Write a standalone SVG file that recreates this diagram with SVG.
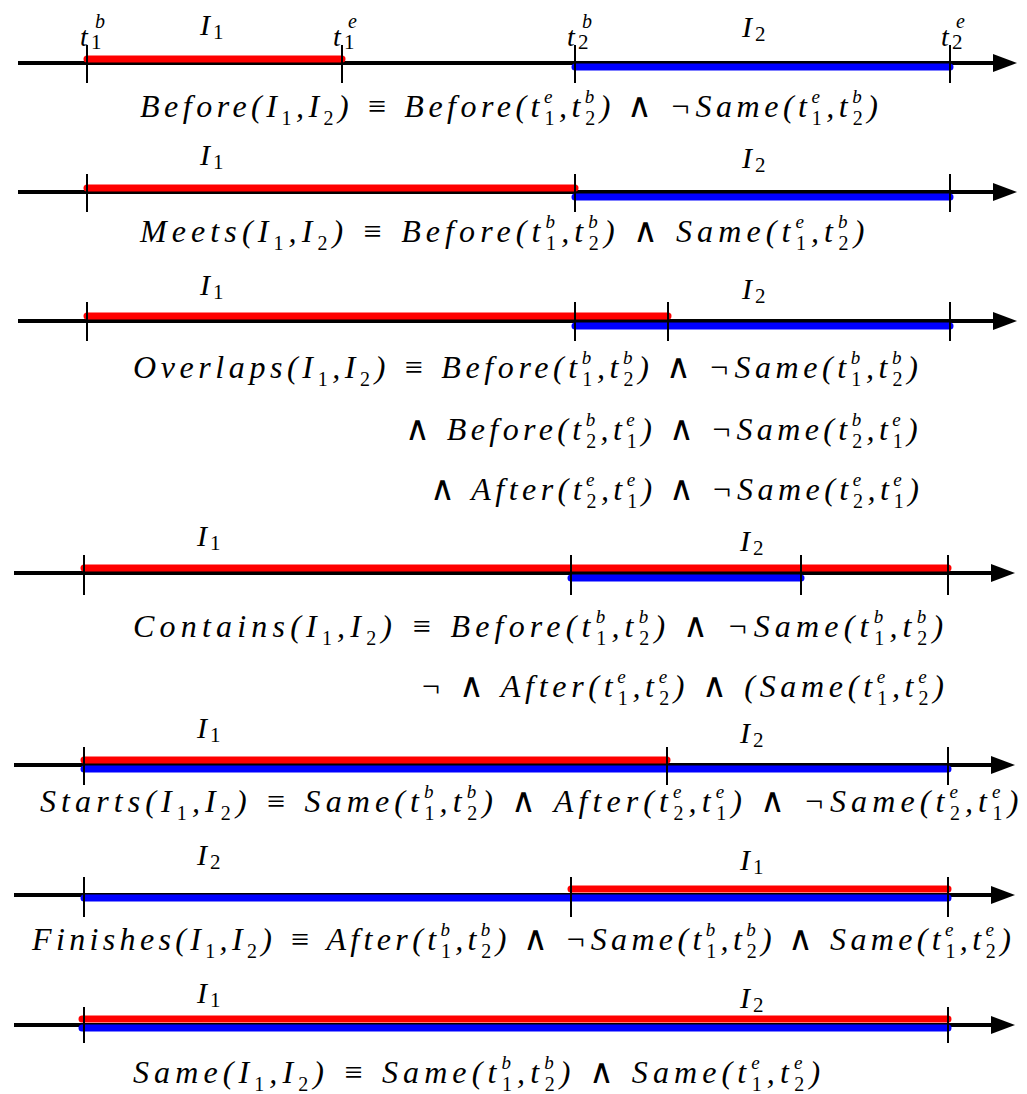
<svg xmlns="http://www.w3.org/2000/svg" width="1027" height="1094" viewBox="0 0 1027 1094">
<style>
.ax{stroke:#000;stroke-width:4;fill:none}
.tk{stroke:#000;stroke-width:2}
.r{stroke:#ff0000;stroke-width:7;stroke-linecap:round}
.b{stroke:#0000ff;stroke-width:7;stroke-linecap:round}
text{font-family:'Liberation Serif','DejaVu Serif',serif;font-style:italic;fill:#000}
.f{font-size:32px}
.sb{font-size:20px;font-style:normal}
.sp{font-size:19px;letter-spacing:0px}
.op{font-family:'DejaVu Sans',sans-serif;font-style:normal;font-weight:200;font-size:34px}
.lb{font-size:30px}
.lt{font-size:28px}
.ls{font-size:21px;font-style:normal}
.lp{font-size:20px}
</style>
<defs>
<marker id="ah" markerUnits="userSpaceOnUse" markerWidth="26" markerHeight="20" refX="0" refY="10" orient="auto">
<path d="M0,1 L24,10 L0,19 Z" fill="#000"/>
</marker>
</defs>

<g id="connectors">
<line class="ax" x1="18" y1="63" x2="993" y2="63" marker-end="url(#ah)"/>
<line class="ax" x1="18" y1="192" x2="993" y2="192" marker-end="url(#ah)"/>
<line class="ax" x1="18" y1="321" x2="993" y2="321" marker-end="url(#ah)"/>
<line class="ax" x1="14" y1="573" x2="991" y2="573" marker-end="url(#ah)"/>
<line class="ax" x1="14" y1="765" x2="991" y2="765" marker-end="url(#ah)"/>
<line class="ax" x1="14" y1="895" x2="991" y2="895" marker-end="url(#ah)"/>
<line class="ax" x1="14" y1="1025" x2="991" y2="1025" marker-end="url(#ah)"/>
</g>

<g id="before">
<line class="r" x1="87" y1="59" x2="342" y2="59"/>
<line class="b" x1="575" y1="67" x2="950" y2="67"/>
<line class="tk" x1="87" y1="45" x2="87" y2="83"/>
<line class="tk" x1="342" y1="45" x2="342" y2="83"/>
<line class="tk" x1="575" y1="45" x2="575" y2="83"/>
<line class="tk" x1="950" y1="45" x2="950" y2="83"/>
<text class="lb"><tspan class="lt" x="80" y="46">t</tspan><tspan class="lp" x="95" y="28">b</tspan><tspan class="ls" x="91" y="49">1</tspan></text>
<text class="lb"><tspan class="lt" x="333" y="46">t</tspan><tspan class="lp" x="348" y="28">e</tspan><tspan class="ls" x="344" y="49">1</tspan></text>
<text class="lb"><tspan class="lt" x="567" y="46">t</tspan><tspan class="lp" x="582" y="28">b</tspan><tspan class="ls" x="578" y="49">2</tspan></text>
<text class="lb"><tspan class="lt" x="941" y="46">t</tspan><tspan class="lp" x="956" y="28">e</tspan><tspan class="ls" x="952" y="49">2</tspan></text>
<text class="lb"><tspan x="200" y="35">I</tspan><tspan class="ls" x="213" y="39">1</tspan></text>
<text class="lb"><tspan x="742" y="37">I</tspan><tspan class="ls" x="755" y="41">2</tspan></text>
<text class="f" x="140" y="117" style="letter-spacing:4.5px">Before(I<tspan class="sb" dy="8">1</tspan><tspan dy="-8">,I</tspan><tspan class="sb" dy="8">2</tspan><tspan dy="-8">) ≡ Before(t</tspan><tspan class="sp" dy="-14">e</tspan><tspan class="sb" dx="-8" dy="22">1</tspan><tspan dy="-8">,t</tspan><tspan class="sp" dy="-14">b</tspan><tspan class="sb" dx="-9" dy="22">2</tspan><tspan dy="-8">) </tspan><tspan class="op">∧</tspan> ¬Same(t<tspan class="sp" dy="-14">e</tspan><tspan class="sb" dx="-8" dy="22">1</tspan><tspan dy="-8">,t</tspan><tspan class="sp" dy="-14">b</tspan><tspan class="sb" dx="-9" dy="22">2</tspan><tspan dy="-8">)</tspan></text>
</g>

<g id="meets">
<line class="r" x1="87" y1="188" x2="575" y2="188"/>
<line class="b" x1="575" y1="197" x2="950" y2="197"/>
<line class="tk" x1="87" y1="174" x2="87" y2="212"/>
<line class="tk" x1="575" y1="174" x2="575" y2="212"/>
<line class="tk" x1="950" y1="174" x2="950" y2="212"/>
<text class="lb"><tspan x="200" y="165">I</tspan><tspan class="ls" x="213" y="169">1</tspan></text>
<text class="lb"><tspan x="742" y="168">I</tspan><tspan class="ls" x="755" y="172">2</tspan></text>
<text class="f" x="140" y="242" style="letter-spacing:5.1px">Meets(I<tspan class="sb" dy="8">1</tspan><tspan dy="-8">,I</tspan><tspan class="sb" dy="8">2</tspan><tspan dy="-8">) ≡ Before(t</tspan><tspan class="sp" dy="-14">b</tspan><tspan class="sb" dx="-9" dy="22">1</tspan><tspan dy="-8">,t</tspan><tspan class="sp" dy="-14">b</tspan><tspan class="sb" dx="-9" dy="22">2</tspan><tspan dy="-8">) </tspan><tspan class="op">∧</tspan> Same(t<tspan class="sp" dy="-14">e</tspan><tspan class="sb" dx="-8" dy="22">1</tspan><tspan dy="-8">,t</tspan><tspan class="sp" dy="-14">b</tspan><tspan class="sb" dx="-9" dy="22">2</tspan><tspan dy="-8">)</tspan></text>
</g>

<g id="overlaps">
<line class="r" x1="87" y1="316" x2="668" y2="316"/>
<line class="b" x1="575" y1="326" x2="950" y2="326"/>
<line class="tk" x1="87" y1="302" x2="87" y2="341"/>
<line class="tk" x1="575" y1="302" x2="575" y2="341"/>
<line class="tk" x1="668" y1="302" x2="668" y2="341"/>
<line class="tk" x1="950" y1="302" x2="950" y2="341"/>
<text class="lb"><tspan x="200" y="295">I</tspan><tspan class="ls" x="213" y="299">1</tspan></text>
<text class="lb"><tspan x="742" y="299">I</tspan><tspan class="ls" x="755" y="303">2</tspan></text>
<text class="f" x="133" y="378" style="letter-spacing:4.6px">Overlaps(I<tspan class="sb" dy="8">1</tspan><tspan dy="-8">,I</tspan><tspan class="sb" dy="8">2</tspan><tspan dy="-8">) ≡ Before(t</tspan><tspan class="sp" dy="-14">b</tspan><tspan class="sb" dx="-9" dy="22">1</tspan><tspan dy="-8">,t</tspan><tspan class="sp" dy="-14">b</tspan><tspan class="sb" dx="-9" dy="22">2</tspan><tspan dy="-8">) </tspan><tspan class="op">∧</tspan> ¬Same(t<tspan class="sp" dy="-14">b</tspan><tspan class="sb" dx="-9" dy="22">1</tspan><tspan dy="-8">,t</tspan><tspan class="sp" dy="-14">b</tspan><tspan class="sb" dx="-9" dy="22">2</tspan><tspan dy="-8">)</tspan></text>
<text class="f" x="405" y="440" style="letter-spacing:4.4px"><tspan class="op">∧</tspan> Before(t<tspan class="sp" dy="-14">b</tspan><tspan class="sb" dx="-9" dy="22">2</tspan><tspan dy="-8">,t</tspan><tspan class="sp" dy="-14">e</tspan><tspan class="sb" dx="-8" dy="22">1</tspan><tspan dy="-8">) </tspan><tspan class="op">∧</tspan> ¬Same(t<tspan class="sp" dy="-14">b</tspan><tspan class="sb" dx="-9" dy="22">2</tspan><tspan dy="-8">,t</tspan><tspan class="sp" dy="-14">e</tspan><tspan class="sb" dx="-8" dy="22">1</tspan><tspan dy="-8">)</tspan></text>
<text class="f" x="430" y="500" style="letter-spacing:4.45px"><tspan class="op">∧</tspan> After(t<tspan class="sp" dy="-14">e</tspan><tspan class="sb" dx="-8" dy="22">2</tspan><tspan dy="-8">,t</tspan><tspan class="sp" dy="-14">e</tspan><tspan class="sb" dx="-8" dy="22">1</tspan><tspan dy="-8">) </tspan><tspan class="op">∧</tspan> ¬Same(t<tspan class="sp" dy="-14">e</tspan><tspan class="sb" dx="-8" dy="22">2</tspan><tspan dy="-8">,t</tspan><tspan class="sp" dy="-14">e</tspan><tspan class="sb" dx="-8" dy="22">1</tspan><tspan dy="-8">)</tspan></text>
</g>

<g id="contains">
<line class="r" x1="84" y1="568" x2="948" y2="568"/>
<line class="b" x1="571" y1="578" x2="801" y2="578"/>
<line class="tk" x1="84" y1="555" x2="84" y2="595"/>
<line class="tk" x1="571" y1="555" x2="571" y2="595"/>
<line class="tk" x1="801" y1="555" x2="801" y2="595"/>
<line class="tk" x1="948" y1="555" x2="948" y2="595"/>
<text class="lb"><tspan x="197" y="546">I</tspan><tspan class="ls" x="210" y="550">1</tspan></text>
<text class="lb"><tspan x="740" y="551">I</tspan><tspan class="ls" x="753" y="555">2</tspan></text>
<text class="f" x="133" y="637" style="letter-spacing:5.2px">Contains(I<tspan class="sb" dy="8">1</tspan><tspan dy="-8">,I</tspan><tspan class="sb" dy="8">2</tspan><tspan dy="-8">) ≡ Before(t</tspan><tspan class="sp" dy="-14">b</tspan><tspan class="sb" dx="-9" dy="22">1</tspan><tspan dy="-8">,t</tspan><tspan class="sp" dy="-14">b</tspan><tspan class="sb" dx="-9" dy="22">2</tspan><tspan dy="-8">) </tspan><tspan class="op">∧</tspan> ¬Same(t<tspan class="sp" dy="-14">b</tspan><tspan class="sb" dx="-9" dy="22">1</tspan><tspan dy="-8">,t</tspan><tspan class="sp" dy="-14">b</tspan><tspan class="sb" dx="-9" dy="22">2</tspan><tspan dy="-8">)</tspan></text>
<text class="f" x="420" y="697" style="letter-spacing:4.7px">¬ <tspan class="op">∧</tspan> After(t<tspan class="sp" dy="-14">e</tspan><tspan class="sb" dx="-8" dy="22">1</tspan><tspan dy="-8">,t</tspan><tspan class="sp" dy="-14">e</tspan><tspan class="sb" dx="-8" dy="22">2</tspan><tspan dy="-8">) </tspan><tspan class="op">∧</tspan> (Same(t<tspan class="sp" dy="-14">e</tspan><tspan class="sb" dx="-8" dy="22">1</tspan><tspan dy="-8">,t</tspan><tspan class="sp" dy="-14">e</tspan><tspan class="sb" dx="-8" dy="22">2</tspan><tspan dy="-8">)</tspan></text>
</g>

<g id="starts">
<line class="r" x1="84" y1="760" x2="667" y2="760"/>
<line class="b" x1="84" y1="769" x2="948" y2="769"/>
<line class="tk" x1="84" y1="747" x2="84" y2="785"/>
<line class="tk" x1="667" y1="747" x2="667" y2="785"/>
<line class="tk" x1="948" y1="747" x2="948" y2="785"/>
<text class="lb"><tspan x="197" y="738">I</tspan><tspan class="ls" x="210" y="742">1</tspan></text>
<text class="lb"><tspan x="740" y="743">I</tspan><tspan class="ls" x="753" y="747">2</tspan></text>
<text class="f" x="40" y="812" style="letter-spacing:5.1px">Starts(I<tspan class="sb" dy="8">1</tspan><tspan dy="-8">,I</tspan><tspan class="sb" dy="8">2</tspan><tspan dy="-8">) ≡ Same(t</tspan><tspan class="sp" dy="-14">b</tspan><tspan class="sb" dx="-9" dy="22">1</tspan><tspan dy="-8">,t</tspan><tspan class="sp" dy="-14">b</tspan><tspan class="sb" dx="-9" dy="22">2</tspan><tspan dy="-8">) </tspan><tspan class="op">∧</tspan> After(t<tspan class="sp" dy="-14">e</tspan><tspan class="sb" dx="-8" dy="22">2</tspan><tspan dy="-8">,t</tspan><tspan class="sp" dy="-14">e</tspan><tspan class="sb" dx="-8" dy="22">1</tspan><tspan dy="-8">) </tspan><tspan class="op">∧</tspan> ¬Same(t<tspan class="sp" dy="-14">e</tspan><tspan class="sb" dx="-8" dy="22">2</tspan><tspan dy="-8">,t</tspan><tspan class="sp" dy="-14">e</tspan><tspan class="sb" dx="-8" dy="22">1</tspan><tspan dy="-8">)</tspan></text>
</g>

<g id="finishes">
<line class="r" x1="571" y1="889" x2="948" y2="889"/>
<line class="b" x1="84" y1="898" x2="948" y2="898"/>
<line class="tk" x1="84" y1="877" x2="84" y2="917"/>
<line class="tk" x1="571" y1="877" x2="571" y2="917"/>
<line class="tk" x1="948" y1="877" x2="948" y2="917"/>
<text class="lb"><tspan x="197" y="865">I</tspan><tspan class="ls" x="210" y="869">2</tspan></text>
<text class="lb"><tspan x="740" y="870">I</tspan><tspan class="ls" x="753" y="874">1</tspan></text>
<text class="f" x="32" y="950" style="letter-spacing:4.35px">Finishes(I<tspan class="sb" dy="8">1</tspan><tspan dy="-8">,I</tspan><tspan class="sb" dy="8">2</tspan><tspan dy="-8">) ≡ After(t</tspan><tspan class="sp" dy="-14">b</tspan><tspan class="sb" dx="-9" dy="22">1</tspan><tspan dy="-8">,t</tspan><tspan class="sp" dy="-14">b</tspan><tspan class="sb" dx="-9" dy="22">2</tspan><tspan dy="-8">) </tspan><tspan class="op">∧</tspan> ¬Same(t<tspan class="sp" dy="-14">b</tspan><tspan class="sb" dx="-9" dy="22">1</tspan><tspan dy="-8">,t</tspan><tspan class="sp" dy="-14">b</tspan><tspan class="sb" dx="-9" dy="22">2</tspan><tspan dy="-8">) </tspan><tspan class="op">∧</tspan> Same(t<tspan class="sp" dy="-14">e</tspan><tspan class="sb" dx="-8" dy="22">1</tspan><tspan dy="-8">,t</tspan><tspan class="sp" dy="-14">e</tspan><tspan class="sb" dx="-8" dy="22">2</tspan><tspan dy="-8">)</tspan></text>
</g>

<g id="same">
<line class="r" x1="82" y1="1019" x2="948" y2="1019"/>
<line class="b" x1="82" y1="1028" x2="948" y2="1028"/>
<line class="tk" x1="84" y1="1007" x2="84" y2="1043"/>
<line class="tk" x1="948" y1="1007" x2="948" y2="1043"/>
<text class="lb"><tspan x="197" y="1003">I</tspan><tspan class="ls" x="210" y="1007">1</tspan></text>
<text class="lb"><tspan x="740" y="1008">I</tspan><tspan class="ls" x="753" y="1012">2</tspan></text>
<text class="f" x="133" y="1083" style="letter-spacing:5.1px">Same(I<tspan class="sb" dy="8">1</tspan><tspan dy="-8">,I</tspan><tspan class="sb" dy="8">2</tspan><tspan dy="-8">) ≡ Same(t</tspan><tspan class="sp" dy="-14">b</tspan><tspan class="sb" dx="-9" dy="22">1</tspan><tspan dy="-8">,t</tspan><tspan class="sp" dy="-14">b</tspan><tspan class="sb" dx="-9" dy="22">2</tspan><tspan dy="-8">) </tspan><tspan class="op">∧</tspan> Same(t<tspan class="sp" dy="-14">e</tspan><tspan class="sb" dx="-8" dy="22">1</tspan><tspan dy="-8">,t</tspan><tspan class="sp" dy="-14">e</tspan><tspan class="sb" dx="-8" dy="22">2</tspan><tspan dy="-8">)</tspan></text>
</g>
</svg>
